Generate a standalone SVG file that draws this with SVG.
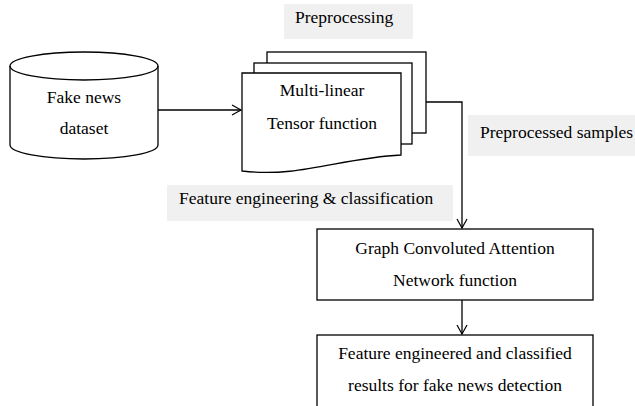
<svg xmlns="http://www.w3.org/2000/svg" width="635" height="406" viewBox="0 0 635 406">
<style>
.s{fill:#fff;stroke:#000;stroke-width:1.3}
.t{font-family:'Liberation Serif','DejaVu Serif','Noto Serif',serif;font-size:17.5px;fill:#000}
.bg{fill:#f0f0f0}
.c{fill:none;stroke:#000;stroke-width:1.3}
</style>
<defs>
<marker id="a" markerWidth="12" markerHeight="12" refX="10" refY="6" orient="auto" markerUnits="userSpaceOnUse">
<path d="M1,1 L10,6 L1,11" fill="none" stroke="#000" stroke-width="1.2"/>
</marker>
</defs>
<g id="label-preprocessing">
<rect class="bg" x="284" y="4" width="129" height="35"/>
<text class="t" x="295" y="23">Preprocessing</text>
</g>
<g id="label-preprocessed">
<rect class="bg" x="468" y="115" width="167" height="41"/>
<text class="t" x="480" y="138">Preprocessed samples</text>
</g>
<g id="label-feature">
<rect class="bg" x="167" y="185" width="286" height="36"/>
<text class="t" x="179" y="204">Feature engineering &amp; classification</text>
</g>
<g id="dataset">
<path class="s" d="M10,66 L10,145 A74,14 0 0 0 158,145 L158,66 A74,14 0 0 0 10,66 Z"/>
<path class="c" d="M10,66 A74,14 0 0 0 158,66"/>
<text class="t" x="84" y="103" text-anchor="middle">Fake news</text>
<text class="t" x="84" y="134" text-anchor="middle">dataset</text>
</g>
<g id="tensor">
<rect class="s" x="267" y="52" width="159" height="81"/>
<rect class="s" x="254" y="63" width="158" height="81"/>
<path class="s" d="M242,73 L401,73 L401,155 C340,158 300,178 242,171 Z"/>
<text class="t" x="322" y="96" text-anchor="middle">Multi-linear</text>
<text class="t" x="322" y="129" text-anchor="middle">Tensor function</text>
</g>
<g id="gcan">
<rect class="s" x="317" y="229" width="276" height="71"/>
<text class="t" x="455" y="254" text-anchor="middle">Graph Convoluted Attention</text>
<text class="t" x="455" y="286" text-anchor="middle">Network function</text>
</g>
<g id="results">
<rect class="s" x="317" y="335" width="276" height="80"/>
<text class="t" x="455" y="359" text-anchor="middle">Feature engineered and classified</text>
<text class="t" x="455" y="391" text-anchor="middle">results for fake news detection</text>
</g>
<g id="connectors">
<path class="c" d="M158,110 L241,110" marker-end="url(#a)"/>
<path class="c" d="M426,102 L462,102 L462,228" marker-end="url(#a)"/>
<path class="c" d="M462,300 L462,334" marker-end="url(#a)"/>
</g>
</svg>
